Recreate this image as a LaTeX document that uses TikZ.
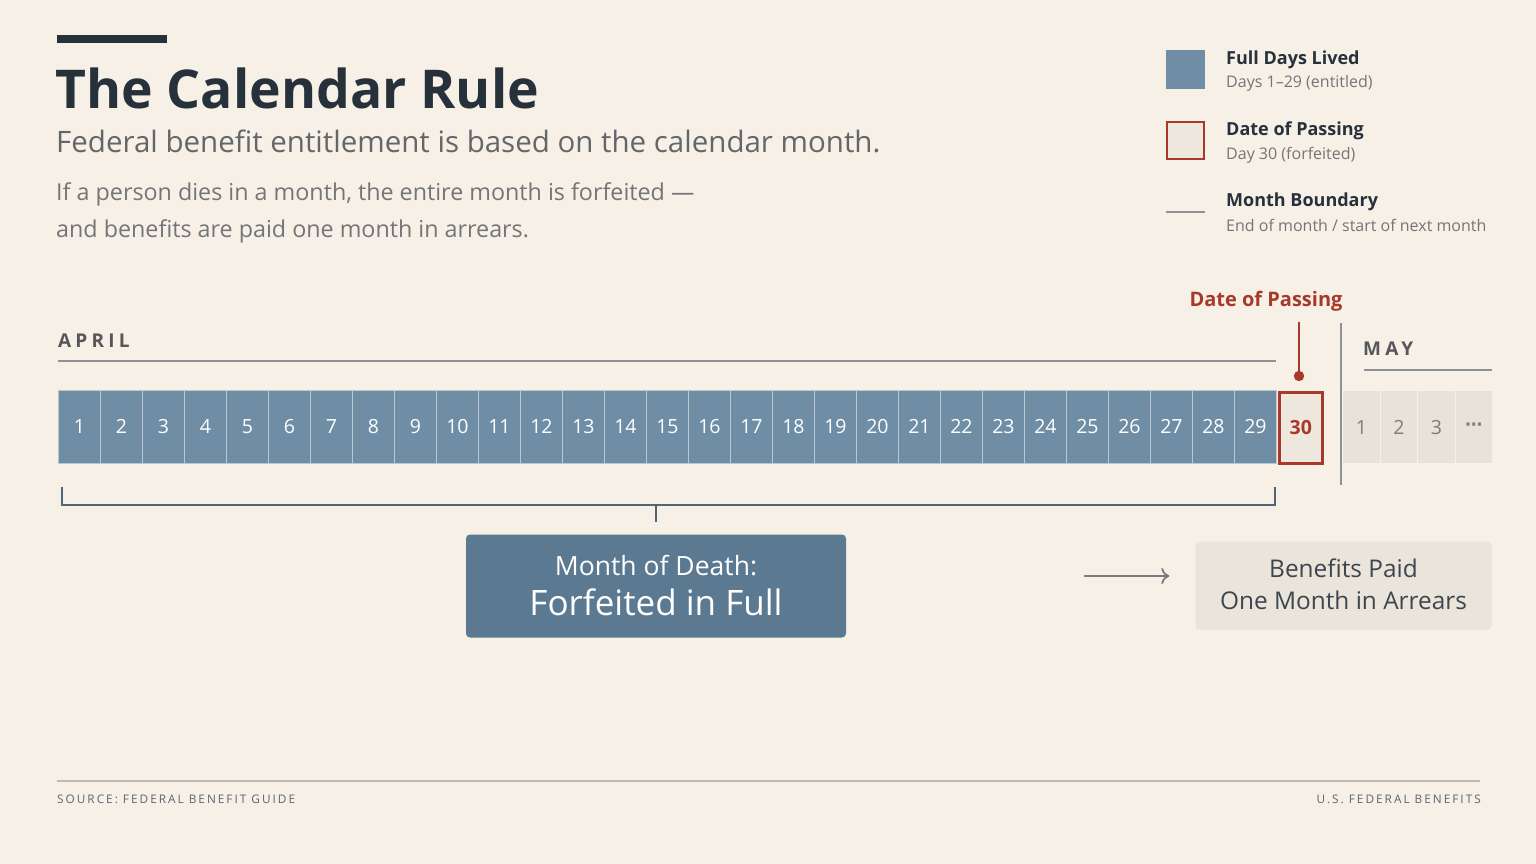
\documentclass[tikz,border=0pt]{standalone}
\usepackage{fontspec}
\setmainfont{Open Sans}
\newfontfamily\spacedfont[LetterSpace=22]{Open Sans}
\newfontfamily\footfont[LetterSpace=17]{Open Sans}
\newfontfamily\symfont{DejaVu Sans}
\usetikzlibrary{arrows.meta,shadows}
\definecolor{bg}{HTML}{F6F0E7}
\definecolor{ink}{HTML}{27313B}
\definecolor{subgray}{HTML}{646769}
\definecolor{bodygray}{HTML}{737577}
\definecolor{cellblue}{HTML}{6F8EA6}
\definecolor{sepblue}{HTML}{B9C8D3}
\definecolor{boxblue}{HTML}{5B7991}
\definecolor{brk}{HTML}{4F6678}
\definecolor{redc}{HTML}{A8392A}
\definecolor{lightcell}{HTML}{EDE7DE}
\definecolor{maycell}{HTML}{E8E2D8}
\definecolor{maytext}{HTML}{7D7D7B}
\definecolor{rulegray}{HTML}{8E9195}
\definecolor{footline}{HTML}{BEBBB3}
\definecolor{foottext}{HTML}{5A6670}
\definecolor{arrearsbox}{HTML}{EAE4DB}
\begin{document}
\begin{tikzpicture}[x=1pt,y=-1pt,
  txt/.style={inner sep=0pt, anchor=west},
  daycell/.style={draw=sepblue, line width=0.8pt, fill=cellblue, minimum width=42pt, minimum height=73pt, inner sep=0pt, anchor=north west, text=white, font=\fontsize{19.5}{24}\selectfont},
  maybox/.style={draw=bg, line width=1.2pt, fill=maycell, minimum width=37.5pt, minimum height=73pt, inner sep=0pt, anchor=north west, text=maytext, font=\fontsize{19.5}{24}\selectfont},
  legtitle/.style={txt, text=ink, font=\bfseries\fontsize{18}{22}\selectfont},
  legsub/.style={txt, text=bodygray, font=\fontsize{16}{19}\selectfont},
  monthlabel/.style={txt, text=subgray!85!black, font=\spacedfont\bfseries\fontsize{19}{24}\selectfont},
  thinrule/.style={draw=rulegray, line width=1.2pt},
  foot/.style={inner sep=0pt, text=foottext, font=\footfont\fontsize{11.8}{14}\selectfont}
]
\useasboundingbox[fill=bg] (0,0) rectangle (1536,864);

% header
\fill[ink] (57,35) rectangle (167,43);
\node[txt, text=ink, font=\bfseries\fontsize{53.5}{64}\selectfont] (title) at (55,88) {The Calendar Rule};
\node[txt, text=subgray, font=\fontsize{29.5}{34}\selectfont] (subtitle) at (56,141) {Federal benefit entitlement is based on the calendar month.};
\node[txt, text=bodygray, font=\fontsize{23.3}{28}\selectfont] (body1) at (56,194) {If a person dies in a month, the entire month is forfeited —};
\node[txt, text=bodygray, font=\fontsize{23.3}{28}\selectfont] (body2) at (56,231) {and benefits are paid one month in arrears.};

% legend
\node[fill=cellblue, minimum width=39pt, minimum height=39pt, inner sep=0pt] (leg1) at (1185.5,69.5) {};
\node[legtitle] (leg1t) at (1226,60) {Full Days Lived};
\node[legsub] (leg1s) at (1226,83) {Days 1–29 (entitled)};
\node[fill=lightcell, draw=redc, line width=2.2pt, minimum width=37pt, minimum height=37pt, inner sep=0pt] (leg2) at (1185.5,140.5) {};
\node[legtitle] (leg2t) at (1226,131) {Date of Passing};
\node[legsub] (leg2s) at (1226,155) {Day 30 (forfeited)};
\coordinate (leg3a) at (1166,212);
\coordinate (leg3b) at (1205,212);
\draw[rulegray, line width=1.6pt] (leg3a) -- (leg3b);
\node[legtitle] (leg3t) at (1226,202) {Month Boundary};
\node[legsub] (leg3s) at (1226,225) {End of month / start of next month};

% month labels
\node[monthlabel] (april) at (58,341) {APRIL};
\draw[thinrule] (58,361) -- (1276,361);
\node[monthlabel] (may) at (1363,349) {MAY};
\draw[thinrule] (1364,370) -- (1492,370);

% day cells
\foreach \i in {1,...,29} {
  \node[daycell] (d\i) at ({58+(\i-1)*42},390) {\i};
}
\node[draw=redc, line width=2.5pt, fill=lightcell, minimum width=43pt, minimum height=71pt, inner sep=0pt, anchor=north west, text=redc, font=\bfseries\fontsize{19.5}{24}\selectfont] (d30) at (1278,391) {30};

% may cells
\node[maybox] (m1) at (1342,390) {1};
\node[maybox] (m2) at (1379.5,390) {2};
\node[maybox] (m3) at (1417,390) {3};
\node[maybox] (m4) at (1454.5,390) {\symfont\bfseries\fontsize{17}{18}\selectfont ⋯};

% month boundary line
\coordinate (bndtop) at (1341,323);
\coordinate (bndbot) at (1341,485);
\draw[rulegray, line width=1.2pt] (bndtop) -- (bndbot);

% date of passing marker
\node[inner sep=0pt, text=redc, font=\bfseries\fontsize{20}{24}\selectfont] (dop) at (1266,301) {Date of Passing};
\coordinate (pintop) at (1299,322);
\coordinate (pin) at (1299,376);
\draw[redc, line width=2pt] (pintop) -- (pin);
\fill[redc] (pin) circle (5.2pt);

% bracket
\coordinate (brl) at (62,487);
\coordinate (brr) at (1275,487);
\coordinate (brmid) at (656,505);
\draw[brk, line width=2.6pt] (brl) |- (brr |- brmid) -- (brr);

% month of death box
\node[fill=boxblue, rounded corners=4pt, minimum width=380pt, minimum height=103pt, inner sep=0pt, text=white] (mod) at (656,586) {};
\node[inner sep=0pt, text=white, font=\fontsize{26.5}{30}\selectfont] (modl1) at ([yshift=20pt]mod.center) {Month of Death:};
\node[inner sep=0pt, text=white, font=\fontsize{35}{40}\selectfont] (modl2) at ([yshift=-16pt]mod.center) {Forfeited in Full};
\draw[brk, line width=2.6pt] (brmid) -- ([yshift=12pt]mod.north);

% arrears box
\node[fill=arrearsbox, rounded corners=4pt, minimum width=296pt, minimum height=86pt, inner sep=0pt, text=ink!90!white, align=center, font=\fontsize{24.4}{32}\selectfont, drop shadow={opacity=0.12, shadow xshift=0pt, shadow yshift=-2pt}] (arr) at (1343.5,584.5) {Benefits Paid\\One Month in Arrears};
\draw[rulegray!85!black, line width=1.8pt, -{To[length=8pt, width=16pt]}] ([xshift=-111pt, yshift=8.5pt]arr.west) -- ([xshift=-26pt, yshift=8.5pt]arr.west);

% footer
\draw[footline, line width=1.2pt] (57,781) -- (1480,781);
\node[foot, anchor=west] (src) at (57,799) {SOURCE: FEDERAL BENEFIT GUIDE};
\node[foot, anchor=east] (org) at (1481,799) {U.S. FEDERAL BENEFITS};
\end{tikzpicture}
\end{document}
